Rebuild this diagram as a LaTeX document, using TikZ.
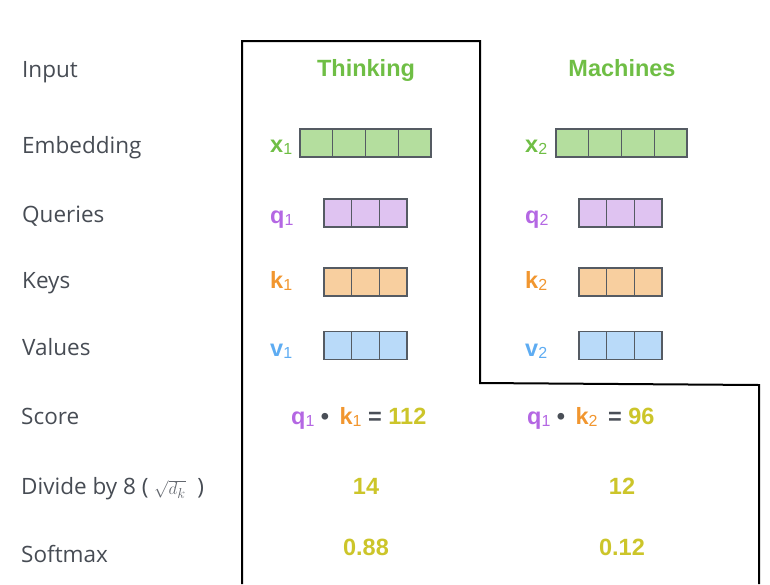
\documentclass[tikz,border=0pt]{standalone}
\usepackage{fontspec}
\setmainfont{Open Sans}
\newfontfamily\hv{Liberation Sans}
\definecolor{lblgray}{HTML}{474C54}
\definecolor{tgreen}{HTML}{6FBE45}
\definecolor{tpurple}{HTML}{B467E3}
\definecolor{torange}{HTML}{F1962F}
\definecolor{tblue}{HTML}{5EACF2}
\definecolor{tyellow}{HTML}{CCC52A}
\definecolor{tdot}{HTML}{4A4F57}
\definecolor{fgreen}{HTML}{B4DE9E}
\definecolor{fpurple}{HTML}{DFC3F1}
\definecolor{forange}{HTML}{F8CF9F}
\definecolor{fblue}{HTML}{B9DAF9}
\definecolor{cellborder}{HTML}{555B63}
\newcommand\vsub[1]{\raisebox{-2.5pt}{\fontsize{16}{16}\selectfont\mdseries #1}}
\tikzset{
  lbl/.style={anchor=base west, inner sep=0pt, text=lblgray, font=\fontsize{22.5}{26}\selectfont},
  colt/.style={inner sep=0pt, font=\hv\bfseries\fontsize{23.5}{27}\selectfont},
  cell/.style={draw=cellborder, line width=1.3pt, minimum height=28pt, inner sep=0pt},
  ecell/.style={cell, minimum width=32.75pt},
  qcell/.style={cell, minimum width=27.7pt},
}
\begin{document}
\begin{tikzpicture}[x=1pt,y=-1pt]
\useasboundingbox (0,0) rectangle (770,584);
% outline
\draw[line width=2pt] (242,584) -- (242,41) -- (480,41) -- (480,383) -- (759,385) -- (759,584);
% left labels
\node[lbl] (linput) at (22,77) {Input};
\node[lbl] (lemb) at (22,153) {Embedding};
\node[lbl] (lq) at (22,222) {Queries};
\node[lbl] (lk) at (22,288) {Keys};
\node[lbl] (lv) at (22,355) {Values};
\node[lbl] (lscore) at (21,424) {Score};
\node[lbl] (ldiv) at (21,494) {Divide by 8 ( {\color{lblgray!85}\fontsize{19}{19}\selectfont$\sqrt{d_k}$} \ )};
\node[lbl] (lsoft) at (21,562) {Softmax};
% words
\node[colt, text=tgreen, anchor=base] (w1) at (366,76) {Thinking};
\node[colt, text=tgreen, anchor=base] (w2) at (622,76) {Machines};
% vector labels
\node[colt, text=tgreen, anchor=base west] (x1) at (270,152) {x\vsub{1}};
\node[colt, text=tpurple, anchor=base west] (q1) at (270,223) {q\vsub{1}};
\node[colt, text=torange, anchor=base west] (k1) at (270,288) {k\vsub{1}};
\node[colt, text=tblue, anchor=base west] (v1) at (270,356) {v\vsub{1}};
\node[colt, text=tgreen, anchor=base west] (x2) at (525,152) {x\vsub{2}};
\node[colt, text=tpurple, anchor=base west] (q2) at (525,223) {q\vsub{2}};
\node[colt, text=torange, anchor=base west] (k2) at (525,288) {k\vsub{2}};
\node[colt, text=tblue, anchor=base west] (v2) at (525,356) {v\vsub{2}};
% embedding cells
\foreach \i in {0,...,3} {
  \node[ecell, fill=fgreen] (ea\i) at ({300+32.75*\i+16.375},143) {};
  \node[ecell, fill=fgreen] (eb\i) at ({556+32.75*\i+16.375},143) {};
}
\foreach \i in {0,...,2} {
  \node[qcell, fill=fpurple] (qa\i) at ({324+27.7*\i+13.85},213) {};
  \node[qcell, fill=forange] (ka\i) at ({324+27.7*\i+13.85},282) {};
  \node[qcell, fill=fblue]   (va\i) at ({324+27.7*\i+13.85},345.5) {};
  \node[qcell, fill=fpurple] (qb\i) at ({579+27.7*\i+13.85},213) {};
  \node[qcell, fill=forange] (kb\i) at ({579+27.7*\i+13.85},282) {};
  \node[qcell, fill=fblue]   (vb\i) at ({579+27.7*\i+13.85},345.5) {};
}
% scores
\node[colt, anchor=base west] (s1) at (291,424) {{\color{tpurple}q\vsub{1}} {\color{tdot}•} \,{\color{torange}k\vsub{1}} {\color{tdot}=} {\color{tyellow}112}};
\node[colt, anchor=base west] (s2) at (527,424) {{\color{tpurple}q\vsub{1}} {\color{tdot}•} \,{\color{torange}k\vsub{2}} \,{\color{tdot}=} {\color{tyellow}96}};
\node[colt, text=tyellow, anchor=base] (d1) at (366,494) {14};
\node[colt, text=tyellow, anchor=base] (d2) at (622,494) {12};
\node[colt, text=tyellow, anchor=base] (m1) at (366,555) {0.88};
\node[colt, text=tyellow, anchor=base] (m2) at (622,555) {0.12};
\end{tikzpicture}
\end{document}
